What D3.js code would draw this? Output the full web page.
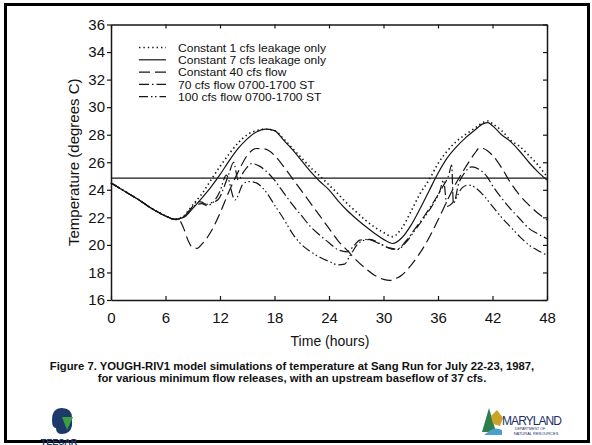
<!DOCTYPE html>
<html><head><meta charset="utf-8">
<script src="https://cdn.jsdelivr.net/npm/d3@7"></script>
<style>
body{margin:0;background:#fff}
svg{display:block}
text{font-family:"Liberation Sans",Arial,Helvetica,sans-serif;fill:#111}
</style>
</head><body>
<svg id="c" width="592" height="445"></svg>
<script>
// ---------- data ----------
const xTicks = [0, 6, 12, 18, 24, 30, 36, 42, 48];
const yTicks = [16, 18, 20, 22, 24, 26, 28, 30, 32, 34, 36];
const xTitle = "Time (hours)";
const yTitle = "Temperature (degrees C)";
const refTemp = 24.85;
const legendLabels = [
  "Constant 1 cfs leakage only",
  "Constant 7 cfs leakage only",
  "Constant 40 cfs flow",
  "70 cfs flow 0700-1700 ST",
  "100 cfs flow 0700-1700 ST"
];
const captionLines = [
  "Figure 7. YOUGH-RIV1 model simulations of temperature at Sang Run for July 22-23, 1987,",
  "for various minimum flow releases, with an upstream baseflow of  37 cfs."
];

const cfs1Time = [0,1,2,3,4,5,6,7,8,9,10,11,12,13,14,15,16,17,18,19,20,21,22,23,24,25,26,27,28,29,30,31,32,33,34,35,36,37,38,39,40,41,41.5,42,43,44,45,46,47,48];
const cfs1Temp = [24.5,24.1,23.7,23.3,22.85,22.45,22.1,21.85,22.1,22.9,23.7,24.7,25.7,26.6,27.4,28.0,28.3,28.4,28.3,27.7,27.0,26.3,25.6,25.0,24.35,23.7,23.0,22.4,21.8,21.3,20.9,20.6,21.2,22.4,23.7,24.7,25.9,26.8,27.5,28.0,28.45,28.9,29.0,28.8,28.3,27.6,27.15,26.5,25.8,24.95];

const cfs7Time = [0,1,2,3,4,5,6,7,8,9,10,11,12,13,14,15,16,17,18,19,20,21,22,23,24,25,26,27,28,29,30,31,32,33,34,35,36,37,38,39,40,41,41.5,42,43,44,45,46,47,48];
const cfs7Temp = [24.5,24.1,23.7,23.3,22.85,22.45,22.1,21.85,22.0,22.65,23.4,24.2,25.1,26.1,27.0,27.7,28.2,28.4,28.3,27.6,26.9,26.1,25.3,24.6,24.0,23.2,22.5,21.9,21.35,20.85,20.4,20.1,20.5,21.4,22.6,23.9,25.2,26.3,27.1,27.75,28.3,28.8,28.87,28.65,28.0,27.5,26.8,26.0,25.3,24.7];

const cfs40Time = [0,1,2,3,4,5,6,7,7.5,8,8.5,9,9.5,10,11,12,13,14,15,16,17,18,19,20,21,22,23,24,25,26,27,28,29,30,30.7,31.5,32,33,34,35,36,37,38,39,40,40.6,41,42,43,44,45,46,47,48];
const cfs40Temp = [24.5,24.1,23.7,23.3,22.85,22.45,22.1,21.85,21.8,21.2,20.3,19.8,19.75,20.05,20.95,22.3,23.9,25.3,26.5,27.0,26.95,26.5,25.7,24.8,23.9,23.0,22.1,21.2,20.3,19.6,18.9,18.3,17.8,17.5,17.42,17.6,17.8,18.5,19.4,20.5,21.8,23.2,24.5,25.6,26.6,27.05,27.0,26.5,25.6,24.5,23.6,22.9,22.3,21.8];

const cfs70Time = [0,1,2,3,4,5,6,7,8,9,9.5,10,10.5,11,11.8,12.5,13,13.5,14,14.6,15.5,16.4,17,18,19,20,21,22,23,24,25,26,26.7,27.4,28.3,29.5,30.5,31.5,32.5,33.5,34.5,35.5,36.5,37.2,37.5,37.7,38.3,39,39.7,40.5,41.4,42,43,44,45,46,47,48];
const cfs70Temp = [24.5,24.1,23.7,23.3,22.85,22.45,22.1,21.85,22.05,22.8,23.15,23.1,22.95,23.05,23.3,24.3,25.2,26.0,24.7,25.3,25.9,25.7,25.4,24.7,23.8,22.9,22.1,21.3,20.7,20.15,19.65,19.5,19.9,20.35,20.4,20.1,19.8,19.7,20.3,21.2,22.1,23.1,24.2,25.1,25.8,23.0,24.5,25.3,25.67,25.5,24.95,24.3,23.4,22.6,21.9,21.2,20.8,20.45];

const cfs100Time = [0,1,2,3,4,5,6,7,8,9,10,10.5,11,12,12.7,13.65,14.6,15.3,16,17,18,19,20,21,22,23,24,25,25.7,26.3,27.4,28.5,29.6,30.7,31.5,32.5,33.5,34.5,35.5,36.2,36.6,37.0,37.9,38.6,39.35,40,41,42,43,44,45,46,47,48];
const cfs100Temp = [24.5,24.1,23.7,23.3,22.85,22.45,22.1,21.85,22.05,22.75,23.0,22.85,22.95,23.9,25.07,23.26,24.47,24.6,24.5,23.9,22.9,21.9,20.8,20.0,19.5,19.1,18.8,18.55,18.6,19.2,20.2,20.4,20.1,19.75,19.65,20.2,21.1,22.0,23.0,23.9,24.7,22.8,23.3,24.1,24.35,24.2,23.6,22.8,22.0,21.3,20.6,20.0,19.6,19.25];

const seriesTimes = [cfs1Time, cfs7Time, cfs40Time, cfs70Time, cfs100Time];
const seriesTemps = [cfs1Temp, cfs7Temp, cfs40Temp, cfs70Temp, cfs100Temp];
const dashes = ["1.4,3", null, "11,5", "10,3,1.5,3", "9,3,1.5,2.5,1.5,3"];

// ---------- drawing ----------
const svg = d3.select("#c");
const ink = "#161616";

// outer frame
svg.append("rect").attr("x", 5.5).attr("y", 4.5).attr("width", 583).attr("height", 437)
  .attr("fill", "#fff").attr("stroke", "#000").attr("stroke-width", 3);

const L = 111, R = 547, T = 24.5, B = 300;
const x = d3.scaleLinear().domain([0, 48]).range([L, R]);
const y = d3.scaleLinear().domain([16, 36]).range([B, T]);

// axes
const gB = svg.append("g").attr("transform", `translate(0,${B})`)
  .call(d3.axisBottom(x).tickValues(xTicks).tickSizeInner(-4).tickSizeOuter(0).tickPadding(12));
const gT = svg.append("g").attr("transform", `translate(0,${T})`)
  .call(d3.axisTop(x).tickValues(xTicks).tickSizeInner(-4).tickSizeOuter(0).tickFormat(""));
const gL = svg.append("g").attr("transform", `translate(${L},0)`)
  .call(d3.axisLeft(y).tickValues(yTicks).tickSizeInner(4).tickSizeOuter(0).tickPadding(2));
const gR = svg.append("g").attr("transform", `translate(${R},0)`)
  .call(d3.axisRight(y).tickValues(yTicks).tickSizeInner(-4).tickSizeOuter(0).tickFormat(""));
[gB, gT, gL, gR].forEach(g => {
  g.select(".domain").attr("stroke", ink).attr("stroke-width", 1.5);
  g.selectAll(".tick line").attr("stroke", ink).attr("stroke-width", 1.2);
  g.selectAll(".tick text").attr("fill", "#111").style("font-size", "15px")
    .style("font-family", '"Liberation Sans",Arial,sans-serif');
});
gB.selectAll(".tick text").attr("dy", "0.71em");

// reference line
svg.append("line").attr("x1", L).attr("x2", R).attr("y1", y(refTemp)).attr("y2", y(refTemp))
  .attr("stroke", ink).attr("stroke-width", 1.1);

// series
const line = d3.line().x(d => x(d[0])).y(d => y(d[1])).curve(d3.curveMonotoneX);
seriesTimes.forEach((ts, i) => {
  const pts = ts.map((t, j) => [t, seriesTemps[i][j]]);
  const p = svg.append("path").attr("d", line(pts)).attr("fill", "none")
    .attr("stroke", ink).attr("stroke-width", i === 0 ? 1.6 : 1.2)
    .attr("stroke-linejoin", "round");
  if (dashes[i]) p.attr("stroke-dasharray", dashes[i]);
});

// legend (text compressed to the narrow face of the original)
const lg = svg.append("g");
const legTexts = [];
legendLabels.forEach((lab, i) => {
  const yy = 47.5 + i * 12.3;
  const l = lg.append("line").attr("x1", 139).attr("x2", 166).attr("y1", yy).attr("y2", yy)
    .attr("stroke", ink).attr("stroke-width", i === 0 ? 1.6 : 1.2);
  if (dashes[i]) l.attr("stroke-dasharray", dashes[i]);
  legTexts.push(lg.append("text").attr("x", 178).attr("y", yy + 4.2).style("font-size", "11.8px").text(lab));
});
const w0 = legTexts[0].node().getComputedTextLength();
const k = 148 / w0;
legTexts.forEach(t => {
  const w = t.node().getComputedTextLength();
  t.attr("textLength", w * k).attr("lengthAdjust", "spacingAndGlyphs");
});

// axis titles
svg.append("text").attr("x", 330).attr("y", 346).attr("text-anchor", "middle")
  .style("font-size", "14px").text(xTitle);
svg.append("text").attr("transform", `translate(79,${(T + B) / 2}) rotate(-90)`)
  .attr("text-anchor", "middle").style("font-size", "15px").text(yTitle);

// caption
captionLines.forEach((c, i) => {
  svg.append("text").attr("x", 292).attr("y", 370 + i * 11.5).attr("text-anchor", "middle")
    .style("font-size", "11.3px").style("font-weight", "bold").text(c);
});

// left logo (simplified)
const lgL = svg.append("g");
lgL.append("path").attr("d", "M52,420 Q52,408 62,408 Q72,408 72,418 L72,426 Q70,434 62,434 Q56,434 56,428 Q52,428 52,420 Z")
  .attr("fill", "#1d3a6b");
lgL.append("path").attr("d", "M62,417 L73,417 L67,430 Z").attr("fill", "#3aa043");
lgL.append("text").attr("x", 59).attr("y", 445).attr("text-anchor", "middle")
  .style("font-size", "9px").style("font-weight", "bold").style("fill", "#1d3a6b").text("TEESAR");
// right logo (simplified)
const lgR = svg.append("g");
lgR.append("path").attr("d", "M482,432 L489,408 L496,432 Z").attr("fill", "#2e7d4a");
lgR.append("path").attr("d", "M488,432 Q494,426 502,430 L502,435 L484,435 Z").attr("fill", "#4aa0c8");
lgR.append("path").attr("d", "M491,416 L497,410 L503,418 L500,426 L493,424 Z").attr("fill", "#c9a227");
lgR.append("text").attr("x", 502).attr("y", 424.5).style("font-size", "12px").style("fill", "#1d2f6b")
  .attr("textLength", 60).text("MARYLAND");
lgR.append("text").attr("x", 530).attr("y", 430).attr("text-anchor", "middle").style("font-size", "3.6px").style("fill", "#1d2f6b").text("DEPARTMENT OF");
lgR.append("text").attr("x", 536).attr("y", 435).attr("text-anchor", "middle").style("font-size", "4px").style("fill", "#1d2f6b").text("NATURAL RESOURCES");
</script>
</body></html>
